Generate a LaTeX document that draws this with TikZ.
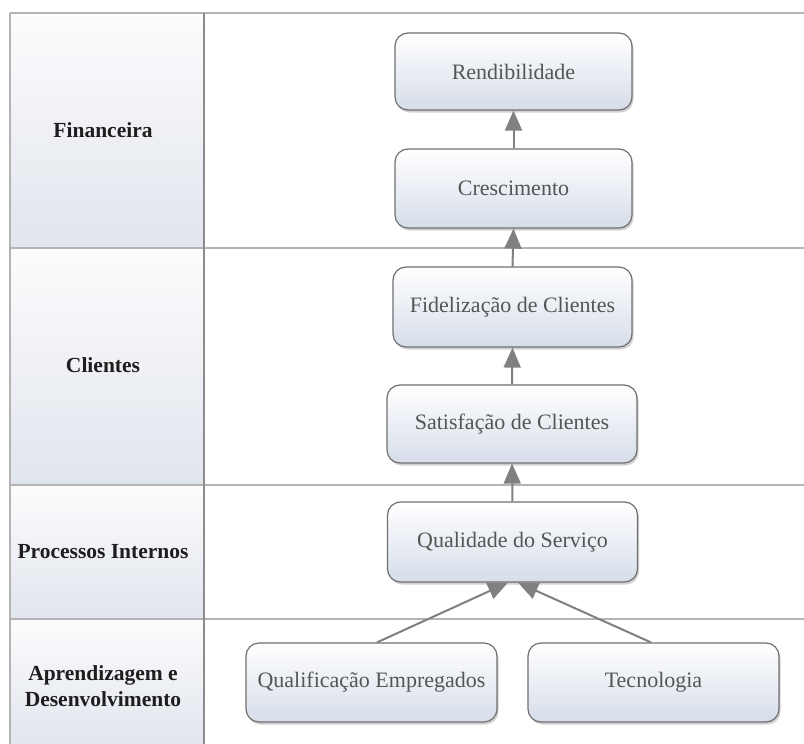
\documentclass[tikz,border=0pt]{standalone}
\usepackage{fontspec}
\setmainfont{Liberation Serif}
\usetikzlibrary{shadows,arrows.meta}
\definecolor{gridline}{RGB}{180,180,180}
\definecolor{coldiv}{RGB}{140,140,140}
\definecolor{boxline}{RGB}{112,112,112}
\definecolor{boxbot}{RGB}{214,221,233}
\definecolor{cellbot}{RGB}{225,229,237}
\definecolor{txtgray}{RGB}{85,85,85}
\definecolor{arrowgray}{RGB}{128,128,128}
\tikzset{
  kpibox/.style={draw=boxline, line width=1.2pt, rounded corners=13pt,
    top color=white, bottom color=boxbot, text=txtgray,
    font=\fontsize{22}{26}\selectfont, inner sep=2pt,
    drop shadow={shadow xshift=1.5pt, shadow yshift=-2.5pt, opacity=0.3, fill=black!60}},
  rowlabel/.style={font=\bfseries\fontsize{21.5}{26}\selectfont, text={rgb,255:red,30;green,30;blue,30}, align=center},
  cellfill/.style={top color={rgb,255:red,252;green,252;blue,253}, bottom color=cellbot, draw=none},
  grid/.style={draw=gridline, line width=1.8pt},
  link/.style={draw=arrowgray, line width=2pt, -{Triangle[length=20pt,width=17pt]}}
}
\begin{document}
\begin{tikzpicture}[x=1pt,y=-1pt]
\useasboundingbox (0,0) rectangle (804,744);
\fill[white] (0,0) rectangle (804,744);
% left column cells
\fill[cellfill] (11,14) rectangle (203,247);
\fill[cellfill] (11,249) rectangle (203,484);
\fill[cellfill] (11,486) rectangle (203,618);
\fill[cellfill] (11,620) rectangle (203,744);
% grid lines
\draw[grid] (10,13) -- (804,13);
\draw[grid] (10,248) -- (804,248);
\draw[grid] (10,485) -- (804,485);
\draw[grid] (10,619) -- (804,619);
\draw[grid] (10,13) -- (10,744);
\draw[draw=coldiv, line width=1.4pt] (204,13) -- (204,744);
% row labels
\node[rowlabel] (lfin) at (103,130) {Financeira};
\node[rowlabel] (lcli) at (103,365) {Clientes};
\node[rowlabel] (lpro) at (103,552) {Processos Internos};
\node[rowlabel] (lapr) at (103,686) {Aprendizagem e\\[0pt]Desenvolvimento};
% boxes
\node[kpibox, minimum width=237pt, minimum height=77pt] (rend) at (513.5,71.5) {Rendibilidade};
\node[kpibox, minimum width=237pt, minimum height=79pt] (cresc) at (513.5,188.5) {Crescimento};
\node[kpibox, minimum width=239pt, minimum height=80pt] (fidel) at (512.5,307) {Fidelização de Clientes};
\node[kpibox, minimum width=250pt, minimum height=78pt] (satis) at (512,424) {Satisfação de Clientes};
\node[kpibox, minimum width=250pt, minimum height=80pt] (qual) at (512.5,542) {Qualidade do Serviço};
\node[kpibox, minimum width=251pt, minimum height=79pt] (qualif) at (371.5,682.5) {Qualificação Empregados};
\node[kpibox, minimum width=251pt, minimum height=79pt] (tecn) at (653.5,682.5) {Tecnologia};
% arrows
\draw[link] (cresc.north) -- (rend.south);
\draw[link] (fidel.north) -- (cresc.south);
\draw[link] (satis.north) -- (fidel.south);
\draw[link] (qual.north) -- (satis.south);
\draw[link] ([xshift=5.5pt]qualif.north) -- ([xshift=-4.5pt]qual.south);
\draw[link] ([xshift=-2.5pt]tecn.north) -- ([xshift=5.5pt]qual.south);
\end{tikzpicture}
\end{document}
